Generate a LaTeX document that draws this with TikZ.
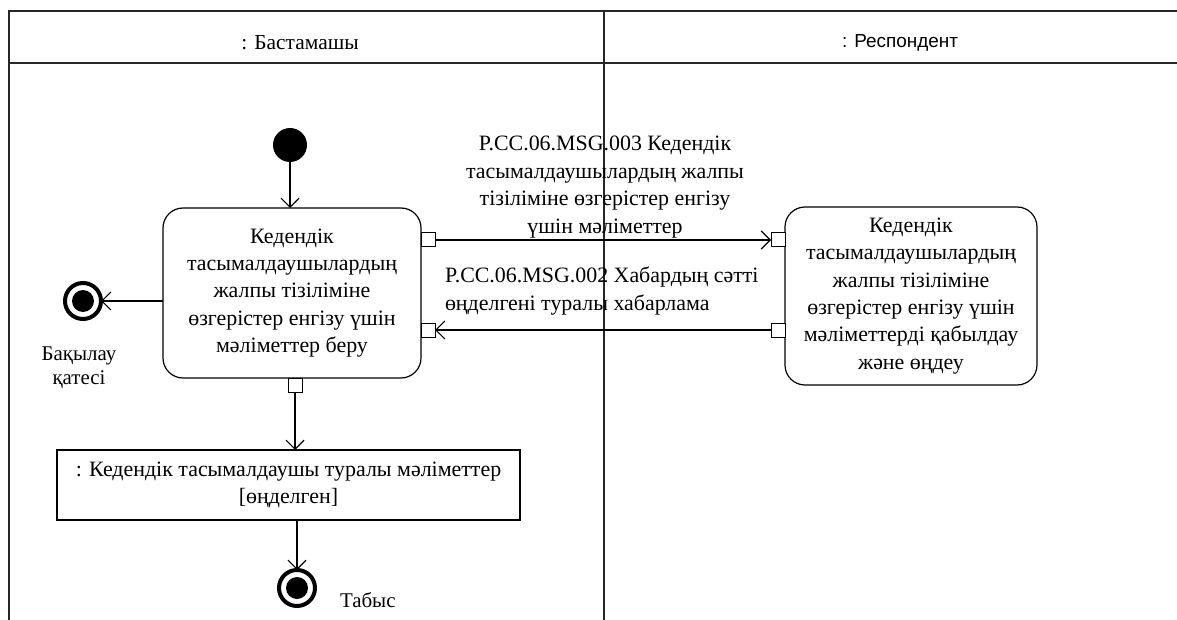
\documentclass[tikz,border=0pt]{standalone}
\usepackage{fontspec}
\setmainfont{Liberation Serif}
\newfontfamily\hsans{Liberation Sans}
\usetikzlibrary{arrows.meta}
\begin{document}
\begin{tikzpicture}[x=1bp,y=-1bp,
  every node/.style={inner sep=0pt, outer sep=0pt},
  txt/.style={font=\fontsize{22}{27.5}\selectfont, align=center},
  act/.style={draw, rounded corners=20bp, line width=1.2bp, txt},
  pinbox/.style={draw, fill=white, minimum size=14bp, line width=1bp},
  objbox/.style={draw, line width=1.2bp, txt},
  flow/.style={line width=1.2bp, -{Straight Barb[length=9bp,width=18bp,line width=1.2bp]}},
  lane/.style={line width=1.6bp, draw=black!85},
  initnode/.style={circle, fill=black, minimum size=34bp},
  finring/.style={circle, draw=black, line width=4bp, fill=white, minimum size=36bp},
  findot/.style={circle, fill=black, minimum size=22bp},
]
\useasboundingbox (0,0) rectangle (1177,620);
% swimlanes
\draw[lane] (9,620) -- (9,11) -- (1177,11);
\draw[lane] (9,63) -- (1177,63);
\draw[lane] (604,11) -- (604,620);
\node[font=\fontsize{21.5}{24}\selectfont] (h1) at (300,43) {: Бастамашы};
\node[font=\hsans\fontsize{19}{22}\selectfont] (h2) at (900,43) {: Респондент};

% nodes
\node[initnode] (init) at (290,145) {};
\node[act, minimum width=258bp, minimum height=170bp] (a1) at (292,293)
  {Кедендік\\тасымалдаушылардың\\жалпы тізіліміне\\өзгерістер енгізу үшін\\мәліметтер беру};
\node[act, minimum width=252bp, minimum height=178bp] (a2) at (911,296)
  {Кедендік\\тасымалдаушылардың\\жалпы тізіліміне\\өзгерістер енгізу үшін\\мәліметтерді қабылдау\\және өңдеу};
\node[pinbox] (p1o) at (428,240) {};
\node[pinbox] (p1i) at (428,330) {};
\node[pinbox] (p2i) at (778,240) {};
\node[pinbox] (p2o) at (778,330) {};
\node[pinbox] (p1b) at (295,385) {};
\node[objbox, minimum width=463bp, minimum height=70bp] (obj) at (288.5,485)
  {: Кедендік тасымалдаушы туралы мәліметтер\\{[өңделген]}};

\node[finring] (err) at (83,301) {};
\node[findot] at (err) {};
\node[finring] (succ) at (297,588) {};
\node[findot] at (succ) {};

% labels
\node[font=\fontsize{21}{24}\selectfont, align=center] (lerr) at (79,368) {Бақылау\\қатесі};
\node[font=\fontsize{21}{24}\selectfont, anchor=west] (lsucc) at (340,600) {Табыс};
\node[txt] (m1) at (605,187)
  {P.CC.06.MSG.003 Кедендік\\тасымалдаушылардың жалпы\\тізіліміне өзгерістер енгізу\\үшін мәліметтер};
\node[txt, align=left, anchor=west] (m2) at (445,291)
  {P.CC.06.MSG.002 Хабардың сәтті\\өңделгені туралы хабарлама};

% connectors
\draw[flow] (init) -- (init |- a1.north);
\draw[flow] (p1o.east) -- (p2i.west);
\draw[flow] (p2o.west) -- (p1i.east);
\draw[flow] (a1.west |- err) -- (err);
\draw[flow] (p1b.south) -- (p1b |- obj.north);
\draw[flow] (obj.south -| succ) -- (succ);
\end{tikzpicture}
\end{document}
